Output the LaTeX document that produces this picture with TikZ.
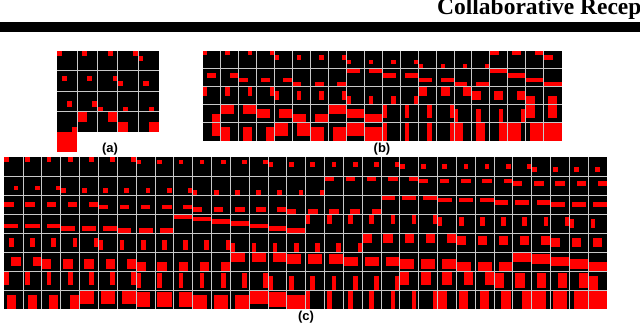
\documentclass[tikz,border=0pt]{standalone}
\usepackage{fontspec}
\setmainfont{Liberation Serif}
\newfontfamily\panelfont{Liberation Sans}
\usepackage{xcolor}
\usepackage{tikz}
\definecolor{rfred}{HTML}{FF0000}
\definecolor{rfline}{HTML}{C8C8C8}

\newcount\rfidx
% one red box per cell: heights outer, widths inner, then y and x offsets in steps of 1/#6
\newcommand\rfsweep[7]{%
  \global\rfidx=0
  \foreach \hh in {#7}{
    \foreach \ww in {#7}{
      \pgfmathtruncatemacro\ny{#6-\hh}
      \pgfmathtruncatemacro\nx{#6-\ww}
      \foreach \py in {0,...,\ny}{
        \foreach \px in {0,...,\nx}{
          \pgfmathtruncatemacro\col{mod(\the\rfidx,#5)}
          \pgfmathtruncatemacro\row{div(\the\rfidx,#5)}
          \fill[rfbox] ({#1+(\col+\px/#6)*#3},{#2+(\row+\py/#6)*#4})
            rectangle ++({\ww/#6*#3},{\hh/#6*#4});
          \global\advance\rfidx by 1
        }
      }
    }
  }
}
% inner grid lines only
\newcommand\rflines[6]{%
  \pgfmathtruncatemacro\lastcol{#5-1}
  \pgfmathtruncatemacro\lastrow{#6-1}
  \foreach \k in {1,...,\lastcol}
    \draw[gridline] ({#1+\k*#3},#2) -- ++(0,{#6*#4});
  \foreach \k in {1,...,\lastrow}
    \draw[gridline] (#1,{#2+\k*#4}) -- ++({#5*#3},0);
}

\begin{document}
\begin{tikzpicture}[x=1pt, y=-1pt,
    gridline/.style={draw=rfline, line width=1pt},
    rfbox/.style={fill=rfred},
    panellabel/.style={font=\panelfont\bfseries\fontsize{13}{15}\selectfont, inner sep=0pt}]
  \useasboundingbox[fill=white] (0,0) rectangle (640,326);

  % running head
  \begin{scope}
    \clip (0,0) rectangle (640,326);
    \node[anchor=base west, inner sep=0pt, font=\bfseries\fontsize{23.5}{26}\selectfont] (header)
      at (437,14.7) {Collaborative Recep};
  \end{scope}
  \fill (0,22.3) rectangle (640,31.7);

  % (a) squares with stride equal to their size
  \fill (56.7,50.7) rectangle ++(102,81.2);
  \foreach \i in {0,...,15}{
    \pgfmathtruncatemacro\col{mod(\i,5)}
    \pgfmathtruncatemacro\row{div(\i,5)}
    \pgfmathtruncatemacro\px{mod(\i,4)}
    \pgfmathtruncatemacro\py{div(\i,4)}
    \fill[rfbox] ({56.7+(\col+\px/4)*20.4},{50.7+(\row+\py/4)*20.3}) rectangle ++(5.1,5.075);
  }
  \foreach \i in {16,...,19}{
    \pgfmathtruncatemacro\col{mod(\i,5)}
    \pgfmathtruncatemacro\row{div(\i,5)}
    \pgfmathtruncatemacro\px{mod(\i-16,2)}
    \pgfmathtruncatemacro\py{div(\i-16,2)}
    \fill[rfbox] ({56.7+(\col+\px/2)*20.4},{50.7+(\row+\py/2)*20.3}) rectangle ++(10.2,10.15);
  }
  \fill[rfbox] (56.7,132) rectangle ++(20.4,20.3);
  \rflines{56.7}{50.7}{20.4}{20.3}{5}{4}
  \node[panellabel] (labela) at (110,149.5) {(a)};

  % (b) quarter steps
  \fill (202.7,50.7) rectangle ++(359,90);
  \rfsweep{202.7}{50.7}{17.95}{18}{20}{4}{1,2,3,4}
  \rflines{202.7}{50.7}{17.95}{18}{20}{5}
  \node[panellabel] (labelb) at (382,149) {(b)};

  % (c) eighth steps
  \fill (4.3,157.3) rectangle ++(603,151.7);
  \rfsweep{4.3}{157.3}{18.84}{18.96}{32}{8}{2,4,6,8}
  \rflines{4.3}{157.3}{18.84}{18.96}{32}{8}
  \node[panellabel] (labelc) at (306,317) {(c)};
\end{tikzpicture}
\end{document}
